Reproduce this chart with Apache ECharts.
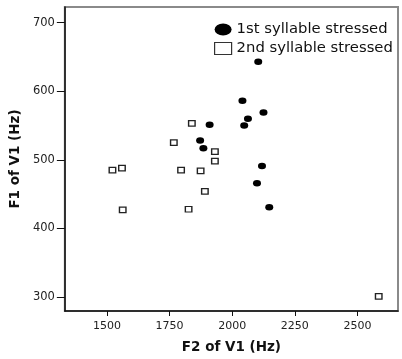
<!DOCTYPE html>
<html>
<head>
<meta charset="utf-8">
<script src="https://cdn.jsdelivr.net/npm/echarts@6/dist/echarts.min.js"></script>
<style>
html,body{margin:0;padding:0;background:#fff;}
#chart{width:402px;height:359px;}
</style>
</head>
<body>
<div id="chart"></div>
<script>
var seriesNames = ['1st syllable stressed', '2nd syllable stressed'];
var firstF2 = [2104, 2041, 2125, 2063, 2048, 1910, 1872, 1885, 2119, 2099, 2148];
var firstF1 = [643, 586, 569, 560, 550, 551, 528, 517, 491, 466, 431];
var secondF2 = [1839, 1767, 1931, 1931, 1522, 1560, 1796, 1874, 1891, 1563, 1826, 2585];
var secondF1 = [553, 525, 512, 498, 485, 488, 485, 484, 454, 427, 428, 301];
var xTicks = [1500, 1750, 2000, 2250, 2500];
var yTicks = [300, 400, 500, 600, 700];
var xTitle = 'F2 of V1 (Hz)';
var yTitle = 'F1 of V1 (Hz)';

function pairs(xs, ys) { return xs.map(function (x, i) { return [x, ys[i]]; }); }
function plain(v) { return String(v); }

var ellipse = 'path://M0,5a5,5 0 1,0 10,0a5,5 0 1,0 -10,0z';
var font = '"DejaVu Sans", sans-serif';

var chart = echarts.init(document.getElementById('chart'), null, {renderer: 'canvas'});
chart.setOption({
  animation: false,
  backgroundColor: '#fff',
  grid: {left: 58, right: 4, top: 7, bottom: 46, show: true, borderColor: '#8a8a8a', borderWidth: 2, backgroundColor: 'transparent'},
  legend: {
    orient: 'vertical', left: 214, top: 22, padding: 0, itemGap: 4,
    itemWidth: 17, itemHeight: 12, symbolKeepAspect: false,
    textStyle: {fontFamily: font, fontSize: 14.8, color: '#111'},
    data: [
      {name: seriesNames[0], icon: ellipse, itemStyle: {color: '#000', borderWidth: 0}},
      {name: seriesNames[1], icon: 'rect', itemStyle: {color: '#fff', borderColor: '#333', borderWidth: 1.2}}
    ]
  },
  xAxis: {
    type: 'value', min: 1332, max: 2662,
    name: xTitle, nameLocation: 'middle', nameGap: 29,
    nameTextStyle: {fontFamily: font, fontSize: 13.5, fontWeight: 'bold', color: '#111'},
    axisLine: {show: true, onZero: false, lineStyle: {color: '#111', width: 1.5}},
    axisTick: {show: true, length: 5, customValues: xTicks, lineStyle: {color: '#111'}},
    axisLabel: {customValues: xTicks, formatter: plain, margin: 10, fontFamily: font, fontSize: 11, color: '#222'},
    splitLine: {show: false}
  },
  yAxis: {
    type: 'value', min: 279.7, max: 722.7,
    name: yTitle, nameLocation: 'middle', nameGap: 36,
    nameTextStyle: {fontFamily: font, fontSize: 13.5, fontWeight: 'bold', color: '#111'},
    axisLine: {show: true, onZero: false, lineStyle: {color: '#111', width: 1.5}},
    axisTick: {show: true, length: 8, customValues: yTicks, lineStyle: {color: '#111'}},
    axisLabel: {customValues: yTicks, formatter: plain, margin: 10, fontFamily: font, fontSize: 11.5, color: '#222'},
    splitLine: {show: false}
  },
  series: [
    {
      name: seriesNames[0], type: 'scatter', symbol: ellipse, symbolSize: [8, 6.5],
      itemStyle: {color: '#000', opacity: 1},
      data: pairs(firstF2, firstF1)
    },
    {
      name: seriesNames[1], type: 'scatter', symbol: 'rect', symbolSize: [6.5, 5.5],
      itemStyle: {color: '#fff', borderColor: '#222', borderWidth: 1.3, opacity: 1},
      data: pairs(secondF2, secondF1)
    }
  ]
});
</script>
</body>
</html>
